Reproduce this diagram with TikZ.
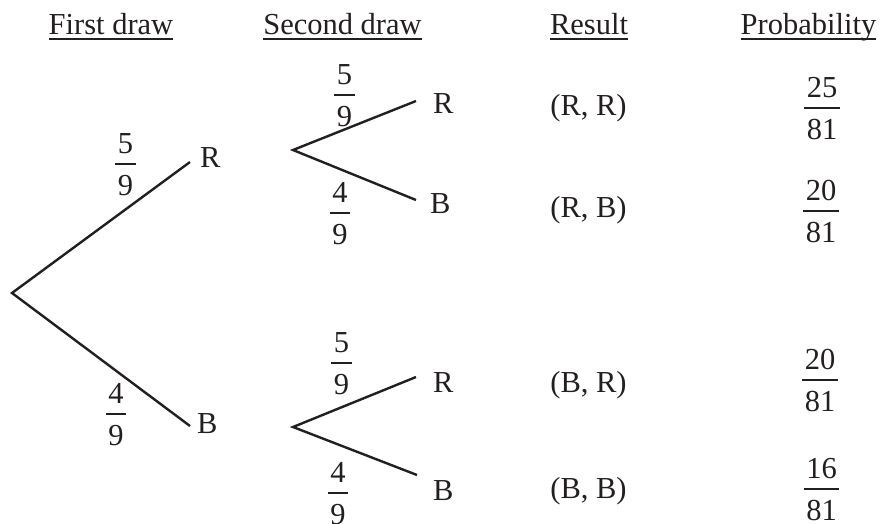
\documentclass[tikz,border=0pt]{standalone}
\usepackage{fontspec}
\setmainfont{Liberation Serif}
\definecolor{ink}{RGB}{35,31,32}
\newcommand\fracat[5]{%
  \coordinate (#1) at (#2,#3);
  \node[txt, anchor=base] (#1n) at (#2,#3-10.5) {#4};
  \node[txt, anchor=base] (#1d) at (#2,#3+31) {#5};
  \coordinate (#1l) at (#1d.west |- #1);
  \coordinate (#1r) at (#1d.east |- #1);
  \draw[fbar] ([xshift=-2.5pt]#1l) -- ([xshift=2.5pt]#1r);
}
\begin{document}
\begin{tikzpicture}[x=1pt,y=-1pt,
  txt/.style={inner sep=0pt, font=\fontsize{30.5}{36}\selectfont, text=ink},
  branch/.style={draw=ink, line width=2.4pt},
  fbar/.style={draw=ink, line width=1.6pt},
  uline/.style={draw=ink, line width=1.4pt}]
\useasboundingbox (0,0) rectangle (885,523);

% headers
\node[txt, anchor=base] (h1) at (111,34.5) {First draw};
\node[txt, anchor=base] (h2) at (342.5,34.5) {Second draw};
\node[txt, anchor=base] (h3) at (589,34.5) {Result};
\node[txt, anchor=base] (h4) at (808.5,34.5) {Probability};
\foreach \h in {h1,h2,h3,h4}{
  \draw[uline] ([yshift=-4.5pt]\h.base west) -- ([yshift=-4.5pt]\h.base east);
}

% first level
\coordinate (root) at (12,293);
\coordinate (t1) at (190,162);
\coordinate (t2) at (190,426);
\draw[branch] (t1) -- (root) -- (t2);
\node[txt, anchor=base west] (R1) at (200,167) {R};
\node[txt, anchor=base west] (B1) at (197,433) {B};
\fracat{F1}{125.5}{164}{5}{9}
\fracat{F2}{116}{414}{4}{9}

% second level, upper
\coordinate (f1) at (293,150);
\coordinate (t3) at (416,101);
\coordinate (t4) at (416,200);
\draw[branch] (t3) -- (f1) -- (t4);
\node[txt, anchor=base west] (RR) at (433,113) {R};
\node[txt, anchor=base west] (RB) at (430,213) {B};
\fracat{F3}{344.5}{95}{5}{9}
\fracat{F4}{340}{213}{4}{9}

% second level, lower
\coordinate (f2) at (293,427);
\coordinate (t5) at (416,377);
\coordinate (t6) at (417,475);
\draw[branch] (t5) -- (f2) -- (t6);
\node[txt, anchor=base west] (BR) at (433,392) {R};
\node[txt, anchor=base west] (BB) at (433,500) {B};
\fracat{F5}{341.5}{363}{5}{9}
\fracat{F6}{338}{493}{4}{9}

% results
\node[txt, anchor=base] (r1) at (588.5,115) {(R, R)};
\node[txt, anchor=base] (r2) at (588.5,217) {(R, B)};
\node[txt, anchor=base] (r3) at (588.5,392) {(B, R)};
\node[txt, anchor=base] (r4) at (588.5,498) {(B, B)};

% probabilities
\fracat{P1}{822}{108}{25}{81}
\fracat{P2}{821}{211}{20}{81}
\fracat{P3}{820}{380}{20}{81}
\fracat{P4}{821.5}{489}{16}{81}
\end{tikzpicture}
\end{document}
